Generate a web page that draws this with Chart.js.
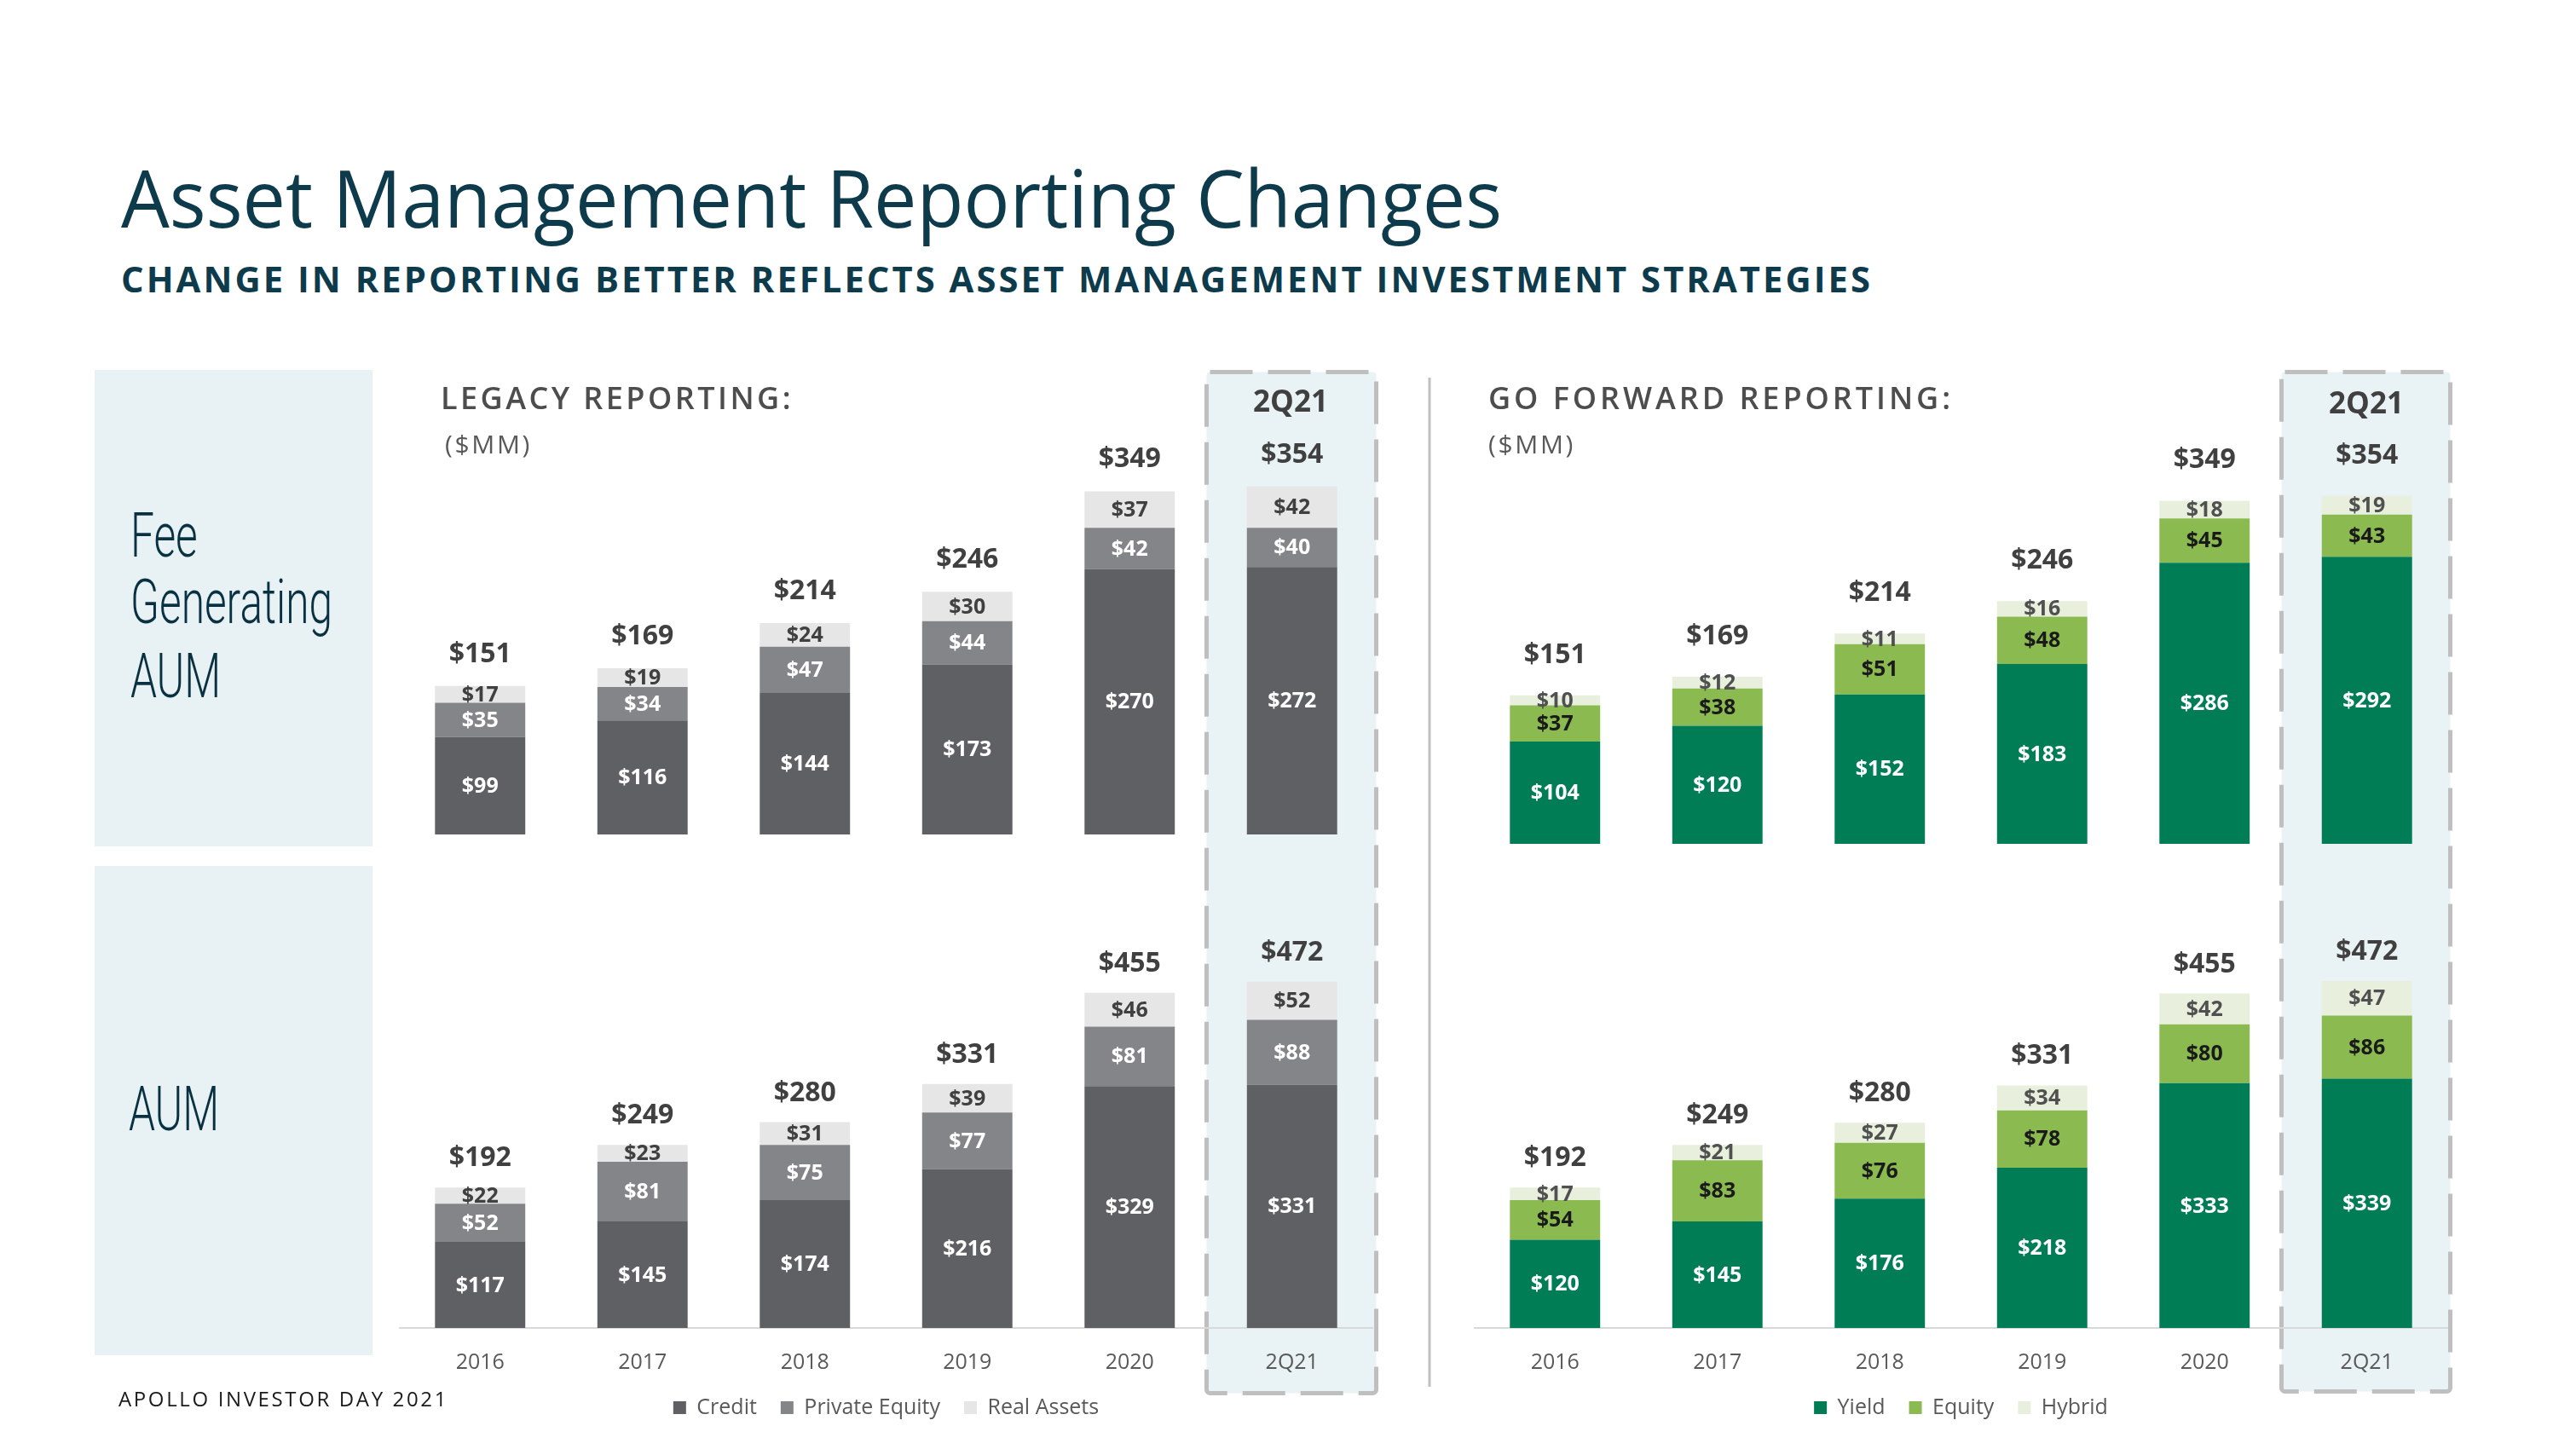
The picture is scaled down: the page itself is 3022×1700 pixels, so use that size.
<!DOCTYPE html>
<html>
<head>
<meta charset="utf-8">
<script src="https://cdn.jsdelivr.net/npm/chart.js@4.4.0/dist/chart.umd.min.js"></script>
<style>
  html, body { margin: 0; padding: 0; background: #ffffff; }
  #page { position: relative; width: 3022px; height: 1700px; overflow: hidden; background: #ffffff; }
  .panel { position: absolute; background: #e8f1f4; z-index: 0; }
  .txt { position: absolute; white-space: nowrap; line-height: 1; z-index: 3; transform-origin: 0 0; }
  canvas { position: absolute; z-index: 2; }
  svg.deco { position: absolute; left: 0; top: 0; z-index: 1; }
</style>
</head>
<body>
<div id="page">
  <div class="panel" style="left:111px;top:434px;width:326px;height:559px;"></div>
  <div class="panel" style="left:111px;top:1016px;width:326px;height:574px;"></div>
  <svg class="deco" width="3022" height="1700">
    <rect x="1415.5" y="436.5" width="199" height="1198" rx="4" fill="#e9f2f5" stroke="#bfbfbf" stroke-width="5" stroke-dasharray="50 18"/>
    <rect x="2676.5" y="436.5" width="198" height="1196" rx="4" fill="#e9f2f5" stroke="#bfbfbf" stroke-width="5" stroke-dasharray="50 18"/>
    <line x1="1677" y1="443" x2="1677" y2="1627" stroke="#c0c0c0" stroke-width="3"/>
  </svg>
  <canvas id="cLU" width="1143" height="519" style="left:468px;top:460px;"></canvas>
  <canvas id="cRU" width="1143" height="519" style="left:1729px;top:471px;"></canvas>
  <canvas id="cLL" width="1143" height="599" style="left:468px;top:1075px;"></canvas>
  <canvas id="cRL" width="1143" height="599" style="left:1729px;top:1075px;"></canvas>
</div>
<script>
// ---------- DATA ----------
const categories = ['2016', '2017', '2018', '2019', '2020', '2Q21'];

// Legacy reporting - Fee Generating AUM ($MM)
const legacyFgaumCredit = [99, 116, 144, 173, 270, 272];
const legacyFgaumPE     = [35, 34, 47, 44, 42, 40];
const legacyFgaumRA     = [17, 19, 24, 30, 37, 42];
const legacyFgaumTotal  = [151, 169, 214, 246, 349, 354];

// Legacy reporting - AUM ($MM)
const legacyAumCredit = [117, 145, 174, 216, 329, 331];
const legacyAumPE     = [52, 81, 75, 77, 81, 88];
const legacyAumRA     = [22, 23, 31, 39, 46, 52];
const legacyAumTotal  = [192, 249, 280, 331, 455, 472];

// Go forward reporting - Fee Generating AUM ($MM)
const fwdFgaumYield  = [104, 120, 152, 183, 286, 292];
const fwdFgaumEquity = [37, 38, 51, 48, 45, 43];
const fwdFgaumHybrid = [10, 12, 11, 16, 18, 19];
const fwdFgaumTotal  = [151, 169, 214, 246, 349, 354];

// Go forward reporting - AUM ($MM)
const fwdAumYield  = [120, 145, 176, 218, 333, 339];
const fwdAumEquity = [54, 83, 76, 78, 80, 86];
const fwdAumHybrid = [17, 21, 27, 34, 42, 47];
const fwdAumTotal  = [192, 249, 280, 331, 455, 472];

const legacyNames = ['Credit', 'Private Equity', 'Real Assets'];
const fwdNames = ['Yield', 'Equity', 'Hybrid'];

// ---------- STYLE ----------
const FONT = '"Open Sans", "Noto Sans", sans-serif';
const legacyColors = ['#5f6064', '#848589', '#e6e6e6'];
const legacyLabelColors = ['#ffffff', '#ffffff', '#404040'];
const fwdColors = ['#007d54', '#8bba50', '#e8f0dd'];
const fwdLabelColors = ['#ffffff', '#1a1a1a', '#505050'];

const labelPlugin = {
  id: 'segLabels',
  afterDatasetsDraw(chart, args, opts) {
    const ctx = chart.ctx;
    ctx.save();
    ctx.textAlign = 'center';
    ctx.textBaseline = 'middle';
    ctx.font = 'bold 25px ' + FONT;
    chart.data.datasets.forEach((ds, di) => {
      const meta = chart.getDatasetMeta(di);
      ctx.fillStyle = ds.labelColor;
      meta.data.forEach((bar, i) => {
        const yc = (bar.y + bar.base) / 2;
        ctx.fillText('$' + ds.data[i], bar.x, yc + 1);
      });
    });
    const topMeta = chart.getDatasetMeta(chart.data.datasets.length - 1);
    ctx.font = 'bold 32px ' + FONT;
    ctx.fillStyle = '#404040';
    ctx.textBaseline = 'alphabetic';
    topMeta.data.forEach((bar, i) => {
      ctx.fillText('$' + opts.totals[i], bar.x, bar.y - opts.gap);
    });
    ctx.restore();
  }
};

function makeChart(id, names, seriesList, colors, labelColors, totals, yMax, lower, gap) {
  const datasets = seriesList.map((s, k) => ({
    label: names[k],
    data: s,
    backgroundColor: colors[k],
    borderWidth: 0,
    labelColor: labelColors[k],
    categoryPercentage: 1.0,
    barPercentage: 0.556
  }));
  const xScale = {
    stacked: true,
    display: lower,
    grid: { display: false, drawTicks: false },
    border: { display: true, color: '#d9d9d9', width: 2 },
    ticks: { color: '#595959', font: { family: FONT, size: 25 }, padding: 26, maxRotation: 0, autoSkip: false }
  };
  if (lower) xScale.afterFit = (s) => { s.height = 53; };
  return new Chart(document.getElementById(id), {
    type: 'bar',
    data: { labels: categories, datasets },
    options: {
      responsive: false,
      animation: false,
      devicePixelRatio: 1,
      layout: { padding: 0 },
      scales: {
        x: xScale,
        y: { stacked: true, display: false, min: 0, max: yMax }
      },
      plugins: {
        legend: {
          display: lower,
          position: 'bottom',
          labels: { boxWidth: 15, boxHeight: 15, padding: 28, color: '#595959', font: { family: FONT, size: 25 } }
        },
        tooltip: { enabled: false },
        segLabels: { totals, gap }
      }
    },
    plugins: [labelPlugin]
  });
}

// ---------- TEXT ----------
function addText(str, o) {
  const d = document.createElement('div');
  d.className = 'txt';
  d.textContent = str;
  d.style.fontFamily = o.family || FONT;
  d.style.fontSize = o.size + 'px';
  d.style.fontWeight = o.weight || 400;
  d.style.color = o.color || '#404040';
  if (o.ls0) d.style.letterSpacing = o.ls0 + 'px';
  d.style.left = '0px';
  d.style.top = '0px';
  document.getElementById('page').appendChild(d);
  const probe = document.createElement('span');
  probe.style.display = 'inline-block';
  probe.style.width = '0px';
  probe.style.height = '0px';
  probe.style.verticalAlign = 'baseline';
  d.appendChild(probe);
  const base = probe.getBoundingClientRect().top - d.getBoundingClientRect().top;
  d.removeChild(probe);
  const w = d.getBoundingClientRect().width;
  let sx = 1;
  if (o.width && o.fit === 'ls') {
    const n = str.length;
    d.style.letterSpacing = ((o.width - w) / n) + 'px';
  } else if (o.width && o.fit === 'scale') {
    sx = o.width / w;
    d.style.transform = 'scaleX(' + sx + ')';
  } else if (o.sx) {
    sx = o.sx;
    d.style.transform = 'scaleX(' + sx + ')';
  }
  const finalW = o.fit === 'ls' ? o.width : w * sx;
  let left = o.x;
  if (o.align === 'center') left = o.x - finalW / 2;
  d.style.left = left + 'px';
  d.style.top = (o.baseline - base) + 'px';
  return { el: d, w };
}

function measure(str, family, size, weight) {
  const c = document.createElement('canvas').getContext('2d');
  c.font = weight + ' ' + size + 'px ' + family;
  return c.measureText(str).width;
}

function build() {
  const teal = '#0d3b4c';
  addText('Asset Management Reporting Changes', { x: 142, baseline: 267, size: 94, color: teal, width: 1620, fit: 'scale' });
  addText('CHANGE IN REPORTING BETTER REFLECTS ASSET MANAGEMENT INVESTMENT STRATEGIES', { x: 142, baseline: 343, size: 41, weight: 700, color: teal, ls0: 3, width: 2055, fit: 'scale' });

  addText('LEGACY REPORTING:', { x: 517, baseline: 480, size: 36, weight: 600, color: '#4d4d4d', width: 414, fit: 'ls' });
  addText('($MM)', { x: 522, baseline: 532, size: 30, weight: 400, color: '#595959', width: 102, fit: 'ls' });
  addText('GO FORWARD REPORTING:', { x: 1746, baseline: 480, size: 36, weight: 600, color: '#4d4d4d', width: 546, fit: 'ls' });
  addText('($MM)', { x: 1746, baseline: 532, size: 30, weight: 400, color: '#595959', width: 102, fit: 'ls' });

  addText('2Q21', { x: 1514, baseline: 483, size: 35, weight: 700, color: '#404040', align: 'center' });
  addText('2Q21', { x: 2776, baseline: 485, size: 35, weight: 700, color: '#404040', align: 'center' });

  const condFam = 'Roboto, "Open Sans", sans-serif';
  const genW = measure('Generating', condFam, 72, 300);
  const sx = 237 / genW;
  const navy = '#0a3142';
  addText('Fee', { x: 153, baseline: 653, size: 72, weight: 300, family: condFam, color: navy, sx });
  addText('Generating', { x: 153, baseline: 731, size: 72, weight: 300, family: condFam, color: navy, sx });
  addText('AUM', { x: 153, baseline: 818, size: 72, weight: 300, family: condFam, color: navy, sx });
  addText('AUM', { x: 151, baseline: 1326, size: 72, weight: 300, family: condFam, color: navy, sx });

  addText('APOLLO INVESTOR DAY 2021', { x: 139, baseline: 1650, size: 24, weight: 400, color: '#1a1a1a', width: 387, fit: 'ls' });

  makeChart('cLU', legacyNames, [legacyFgaumCredit, legacyFgaumPE, legacyFgaumRA], legacyColors, legacyLabelColors, legacyFgaumTotal, 450, false, 28);
  makeChart('cLL', legacyNames, [legacyAumCredit, legacyAumPE, legacyAumRA], legacyColors, legacyLabelColors, legacyAumTotal, 560, true, 25);
  makeChart('cRU', fwdNames, [fwdFgaumYield, fwdFgaumEquity, fwdFgaumHybrid], fwdColors, fwdLabelColors, fwdFgaumTotal, 450, false, 38);
  makeChart('cRL', fwdNames, [fwdAumYield, fwdAumEquity, fwdAumHybrid], fwdColors, fwdLabelColors, fwdAumTotal, 560, true, 25);
}

Promise.all([
  document.fonts.load('400 24px "Open Sans"'),
  document.fonts.load('600 24px "Open Sans"'),
  document.fonts.load('700 24px "Open Sans"'),
  document.fonts.load('300 24px Roboto')
]).catch(() => {}).then(() => document.fonts.ready).then(build);
</script>
</body>
</html>
